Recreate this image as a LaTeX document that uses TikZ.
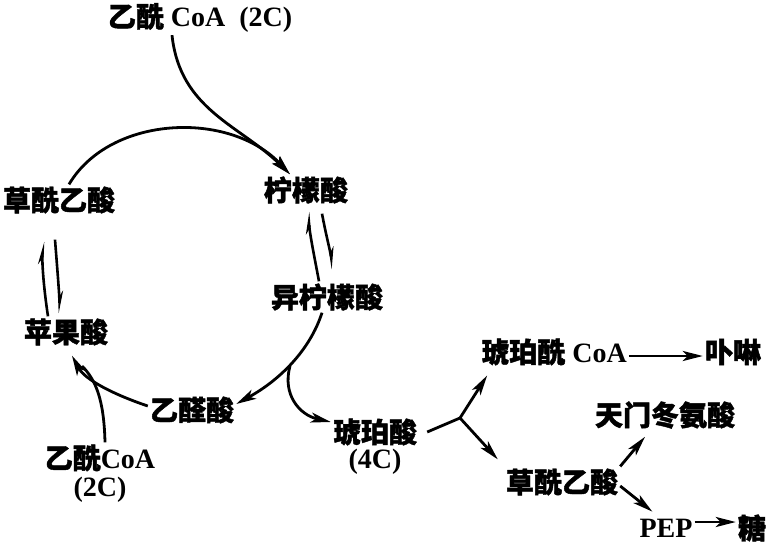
\documentclass[tikz,border=0pt]{standalone}
\usepackage{fontspec}
\setmainfont{Liberation Serif}
\newfontfamily\cjk[FakeBold=1.5]{Noto Sans CJK SC}
\usetikzlibrary{arrows.meta}
\newcommand\zh[1]{{\cjk #1}}
\tikzset{
  lbl/.style={inner sep=2pt, font=\fontsize{28}{32}\selectfont\bfseries},
  flow/.style={line width=2.8pt, -{Stealth[length=20pt,width=10pt,inset=5pt]}},
  half/.style={line width=2.6pt, -{Stealth[left,length=17pt,width=8pt]}},
  plain/.style={line width=2.8pt},
}

\begin{document}
\begin{tikzpicture}[x=1pt,y=-1pt]
    \useasboundingbox (0,0) rectangle (767,543);

    % the cycle
    \node[lbl] (acoa) at (200,18) {\zh{乙酰} CoA\enspace(2C)};
    \node[lbl] (cit) at (306,190) {\zh{柠檬酸}};
    \node[lbl] (oaa) at (59,200) {\zh{草酰乙酸}};
    \node[lbl] (icit) at (327,297) {\zh{异柠檬酸}};
    \node[lbl] (mal) at (66,332) {\zh{苹果酸}};
    \node[lbl] (glx) at (192,410) {\zh{乙醛酸}};
    \node[lbl] (acoab) at (100,458) {\zh{乙酰}CoA};
    \node[lbl] (acoabc) at (100,490) {(2C)};

    % the side paths
    \node[lbl] (suc) at (375,432) {\zh{琥珀酸}};
    \node[lbl] (succ) at (375,462) {(4C)};
    \node[lbl] (scoa) at (554,352) {\zh{琥珀酰} CoA};
    \node[lbl] (por) at (733,352) {\zh{卟啉}};
    \node[lbl] (asp) at (665,415) {\zh{天门冬氨酸}};
    \node[lbl] (oaab) at (562,482) {\zh{草酰乙酸}};
    \node[lbl] (pep) at (666,528) {PEP};
    \node[lbl] (sug) at (752,528) {\zh{糖}};

    \coordinate (br) at (290,366);
    \coordinate (mj) at (82,366);
    \coordinate (fk) at (460,418);

    \draw[flow] ([xshift=10]oaa.north) .. controls (110,115) and (230,110) .. ([xshift=-16]cit.north);
    \draw[flow] ([xshift=-28]acoa.south) .. controls (180,110) and (240,125) .. ([xshift=-16]cit.north);
    \draw[half] ([xshift=-8]icit.north) .. controls (314,255) and (310,235) .. ([shift={(2,6)}]cit.south);
    \draw[half] ([shift={(16,8)}]cit.south) .. controls (326,235) and (330,250) .. ([shift={(6,-12)}]icit.north);
    \draw[flow] ([xshift=-5]icit.south) .. controls (310,350) and (280,380) .. ([yshift=6]glx.east);
    \draw[flow] (br) .. controls (282,395) and (300,415) .. ([yshift=10]suc.west);
    \draw[flow] ([yshift=4]glx.west) .. controls (115,395) and (85,380) .. ([shift={(6,8)}]mal.south);
    \draw[plain] ([xshift=5]acoab.north) .. controls (104,400) and (96,380) .. (mj);
    \draw[half] ([shift={(-18,0)}]mal.north) .. controls (44,290) and (42,265) .. ([shift={(-16,26)}]oaa.south);
    \draw[half] ([shift={(-4,24)}]oaa.south) .. controls (57,265) and (59,290) .. ([shift={(-6,-3)}]mal.north);

    \draw[plain] ([xshift=8]suc.east) -- (fk);
    \draw[flow] (fk) -- ([shift={(8,8)}]scoa.south west);
    \draw[flow] (fk) -- ([shift={(-6,-7)}]oaab.north west);
    \draw[flow] ([yshift=-4]scoa.east) -- ([yshift=-4]por.west);
    \draw[flow] (oaab.north east) -- ([shift={(-20,6)}]asp.south);
    \draw[flow] ([yshift=-4]oaab.east) -- ([shift={(15,-5)}]pep.north west);
    \draw[flow] ([yshift=6]pep.east) -- ([yshift=6]sug.west);
\end{tikzpicture}
\end{document}
